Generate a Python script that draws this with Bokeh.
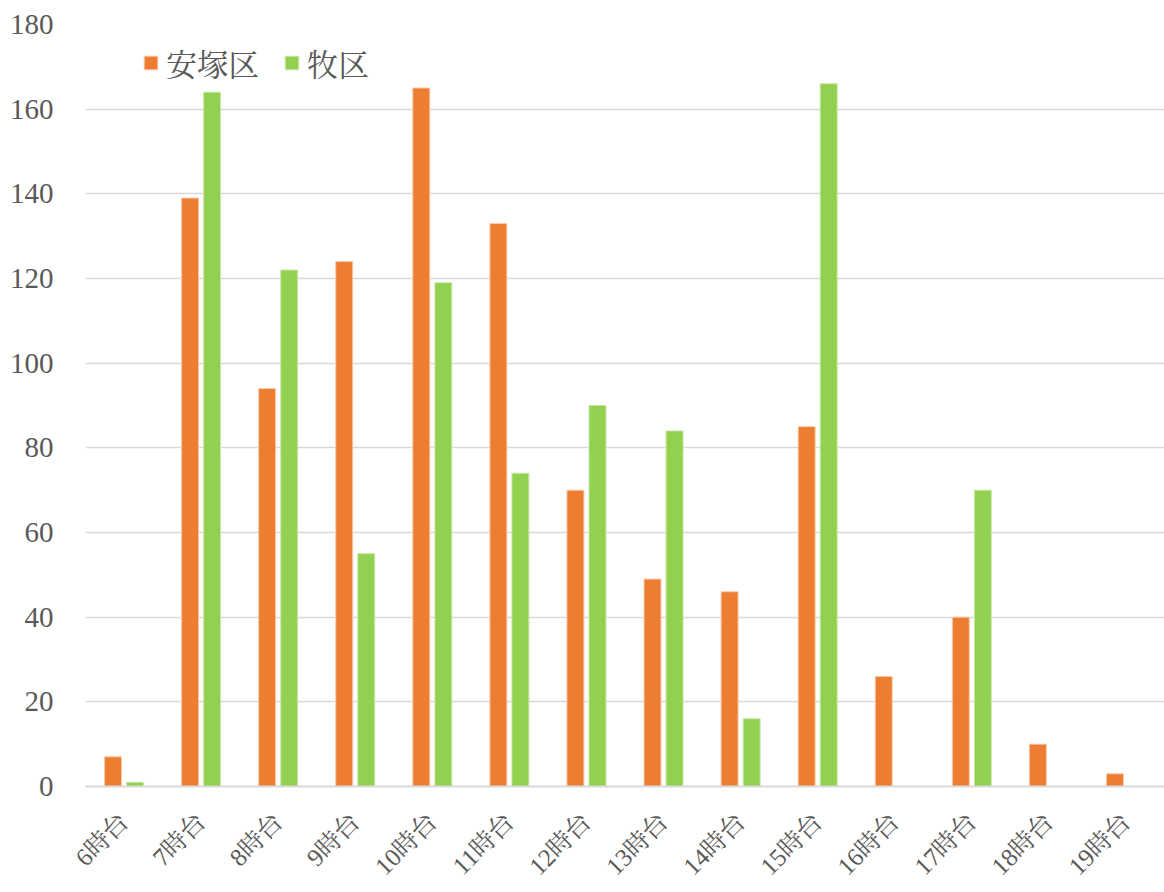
import math
from bokeh.plotting import figure
from bokeh.models import (ColumnDataSource, FactorRange, Range1d, Legend, LegendItem,
                          SingleIntervalTicker)
from bokeh.transform import dodge
from bokeh.embed import file_html
from bokeh.resources import INLINE

categories = ["6時台", "7時台", "8時台", "9時台", "10時台", "11時台", "12時台",
              "13時台", "14時台", "15時台", "16時台", "17時台", "18時台", "19時台"]
series_names = ["安塚区", "牧区"]
yasuzuka = [7, 139, 94, 124, 165, 133, 70, 49, 46, 85, 26, 40, 10, 3]
maki = [1, 164, 122, 55, 119, 74, 90, 84, 16, 166, 0, 70, 0, 0]
colors = ["#ED7D31", "#92D050"]

FONT = "'Liberation Serif', 'Noto Serif CJK JP', 'Noto Sans CJK JP', serif"

src = ColumnDataSource(dict(cat=categories, a=yasuzuka, b=maki))

p = figure(width=1164, height=892, output_backend="svg", toolbar_location=None,
           x_range=FactorRange(*categories, range_padding=0),
           y_range=Range1d(0, 180),
           min_border_left=85, min_border_right=0, min_border_top=24, min_border_bottom=106)
p.outline_line_color = None
p.background_fill_color = "white"
p.border_fill_color = "white"

r1 = p.vbar(x=dodge("cat", -0.143, range=p.x_range), top="a", width=0.22, source=src,
            fill_color=colors[0], line_color="#F8C8A8", line_width=1)
r2 = p.vbar(x=dodge("cat", 0.143, range=p.x_range), top="b", width=0.22, source=src,
            fill_color=colors[1], line_color="#C8E8A8", line_width=1)

p.xgrid.grid_line_color = None
p.ygrid.grid_line_color = "#D9D9D9"
p.ygrid.grid_line_width = 1.3
p.yaxis.ticker = SingleIntervalTicker(interval=20)
p.yaxis.axis_line_color = None
p.yaxis.major_tick_line_color = None
p.yaxis.minor_tick_line_color = None
p.yaxis.major_label_text_font = FONT
p.yaxis.major_label_text_font_size = "29px"
p.yaxis.major_label_text_color = "#595959"
p.yaxis.major_label_standoff = 26

p.xaxis.axis_line_color = "#D9D9D9"
p.xaxis.axis_line_width = 2
p.xaxis.major_tick_line_color = None
p.xaxis.minor_tick_line_color = None
p.xaxis.major_label_orientation = math.pi / 4
p.xaxis.major_label_text_font = FONT
p.xaxis.major_label_text_font_size = "25px"
p.xaxis.major_label_text_color = "#595959"
p.xaxis.major_label_standoff = 25

legend = Legend(items=[LegendItem(label=series_names[0], renderers=[r1]),
                       LegendItem(label=series_names[1], renderers=[r2])],
                orientation="horizontal", location=(57, 701),
                label_text_font=FONT, label_text_font_size="31px",
                label_text_color="#595959", glyph_width=17, glyph_height=17,
                spacing=24, label_standoff=7, border_line_color=None,
                background_fill_alpha=0)
p.add_layout(legend, "center")

open("out.html", "w").write(file_html(p, INLINE))
